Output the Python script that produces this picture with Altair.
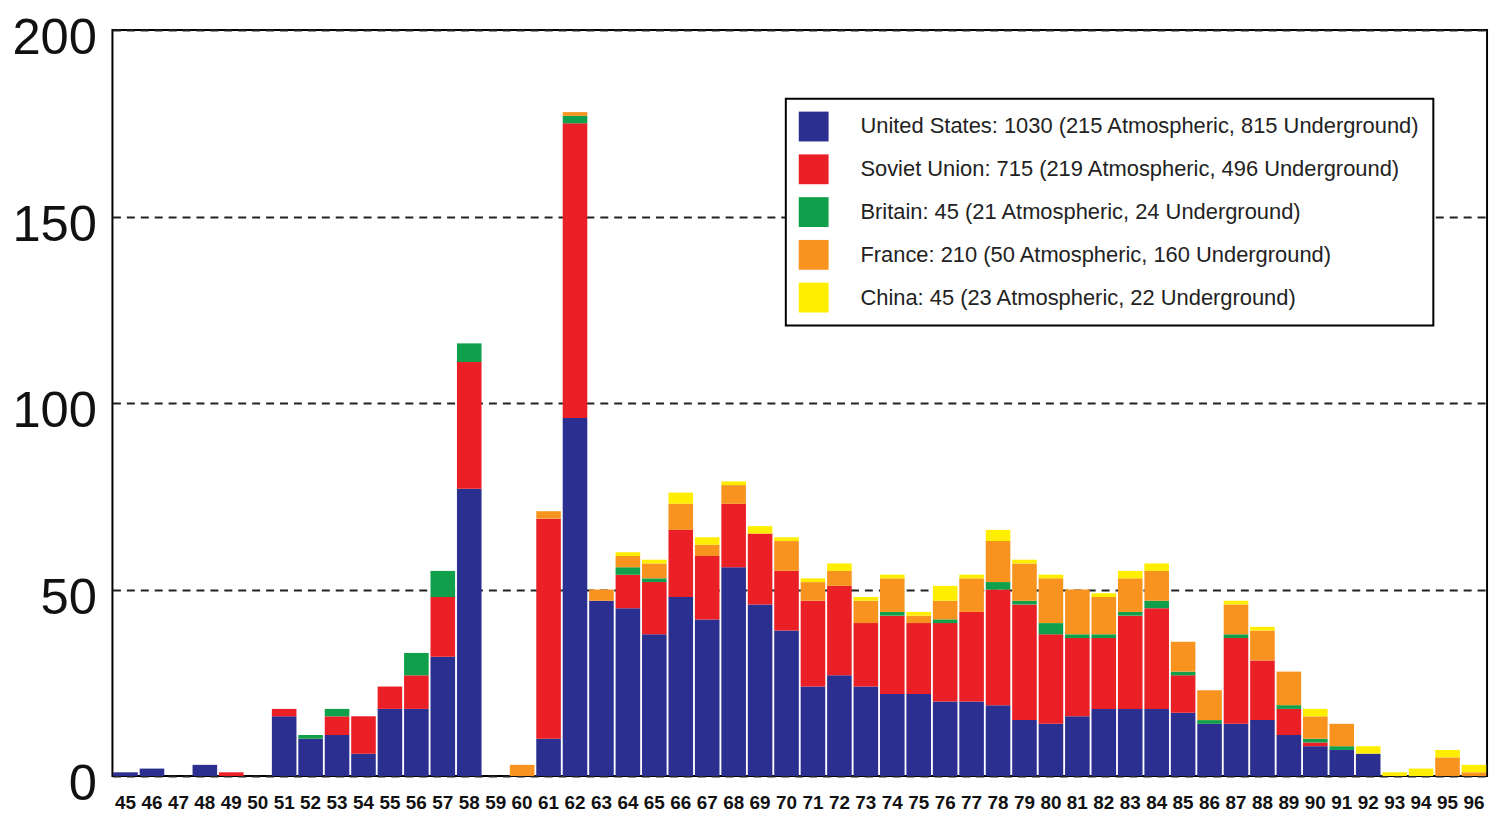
import altair as alt
import pandas as pd

year_labels = [str(y)[2:] for y in range(1945, 1997)]

us = [1, 2, 0, 3, 0, 0, 16, 10, 11, 6, 18, 18, 32, 77, 0, 0, 10, 96, 47, 45,
      38, 48, 42, 56, 46, 39, 24, 27, 24, 22, 22, 20, 20, 19, 15, 14, 16, 18,
      18, 18, 17, 14, 14, 15, 11, 8, 7, 6, 0, 0, 0, 0]
ussr = [0, 0, 0, 0, 1, 0, 2, 0, 5, 10, 6, 9, 16, 34, 0, 0, 59, 79, 0, 9,
        14, 18, 17, 17, 19, 16, 23, 24, 17, 21, 19, 21, 24, 31, 31, 24, 21, 19,
        25, 27, 10, 0, 23, 16, 7, 1, 0, 0, 0, 0, 0, 0]
uk = [0, 0, 0, 0, 0, 0, 0, 1, 2, 0, 0, 6, 7, 5, 0, 0, 0, 2, 0, 2,
      1, 0, 0, 0, 0, 0, 0, 0, 0, 1, 0, 1, 0, 2, 1, 3, 1, 1,
      1, 2, 1, 1, 1, 0, 1, 1, 1, 0, 0, 0, 0, 0]
france = [0, 0, 0, 0, 0, 0, 0, 0, 0, 0, 0, 0, 0, 0, 0, 3, 2, 1, 3, 3,
          4, 7, 3, 5, 0, 8, 5, 4, 6, 9, 2, 5, 9, 11, 10, 12, 12, 10,
          9, 8, 8, 8, 8, 8, 9, 6, 6, 0, 0, 0, 5, 1]
china = [0, 0, 0, 0, 0, 0, 0, 0, 0, 0, 0, 0, 0, 0, 0, 0, 0, 0, 0, 1,
         1, 3, 2, 1, 2, 1, 1, 2, 1, 1, 1, 4, 1, 3, 1, 1, 0, 1,
         2, 2, 0, 0, 1, 1, 0, 2, 0, 2, 1, 2, 2, 2]

series_names = [
    "United States: 1030 (215 Atmospheric, 815 Underground)",
    "Soviet Union: 715 (219 Atmospheric, 496 Underground)",
    "Britain: 45 (21 Atmospheric, 24 Underground)",
    "France: 210 (50 Atmospheric, 160 Underground)",
    "China: 45 (23 Atmospheric, 22 Underground)",
]
series_colors = ["#2B3090", "#EB2027", "#10A04C", "#F7931E", "#FFEE00"]
series_values = [us, ussr, uk, france, china]

rows = []
for si, (name, vals) in enumerate(zip(series_names, series_values)):
    for yl, v in zip(year_labels, vals):
        rows.append({"year": yl, "country": name, "idx": si, "n": v})
df = pd.DataFrame(rows)

font = "Liberation Sans, Arial, sans-serif"

chart = alt.Chart(df).mark_bar().encode(
    x=alt.X("year:O", sort=year_labels,
            scale=alt.Scale(paddingInner=0.07, paddingOuter=0.03),
            axis=alt.Axis(title=None, labelAngle=0, labelFontSize=19,
                          labelFont=font, labelFontWeight="bold",
                          labelColor="#111", ticks=False, domain=False,
                          labelPadding=27, labelBaseline="middle", grid=False)),
    y=alt.Y("n:Q", stack="zero",
            scale=alt.Scale(domain=[0, 200], nice=False),
            axis=alt.Axis(values=[0, 50, 100, 150, 200], title=None,
                          labelFontSize=51, labelFont=font, labelColor="#111",
                          labelPadding=16, labelBaseline="alphabetic",
                          labelOffset=24, ticks=False,
                          domain=False, grid=True, gridDash=[8, 6],
                          gridColor="#222", gridWidth=2)),
    color=alt.Color("country:N",
                    scale=alt.Scale(domain=series_names, range=series_colors),
                    legend=alt.Legend(title=None, orient="none",
                                      legendX=677, legendY=69)),
    order=alt.Order("idx:Q", sort="ascending"),
).properties(
    width=1382, height=750,
    autosize=alt.AutoSizeParams(type="none"),
    padding={"left": 105, "top": 20, "right": 8, "bottom": 38},
).configure_view(
    stroke="black", strokeWidth=2
).configure_legend(
    symbolType="square", symbolSize=900, symbolStrokeWidth=0,
    symbolOpacity=1, labelFontSize=22, labelFont=font, labelColor="#222",
    labelOffset=32, rowPadding=13, padding=13, labelLimit=800,
    fillColor="white", strokeColor="black", strokeWidth=2,
)

chart.save("out.html", embed_options={"renderer": "svg", "actions": False})
